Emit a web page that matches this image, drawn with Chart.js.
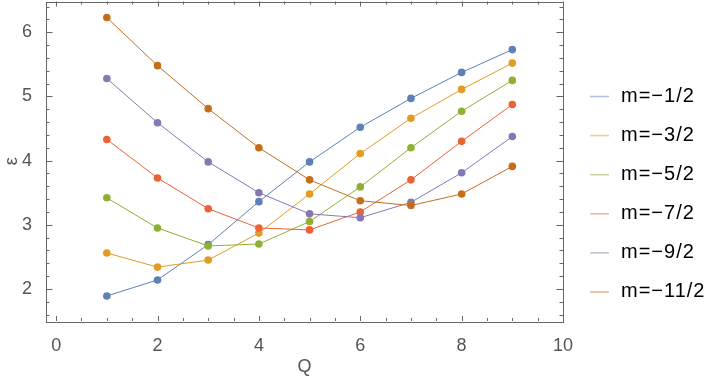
<!DOCTYPE html>
<html><head><meta charset="utf-8">
<script src="https://cdn.jsdelivr.net/npm/chart.js@4"></script>
<style>html,body{margin:0;padding:0;background:#fff}#wrap{width:713px;height:382px;position:relative}</style>
</head><body><div id="wrap"><canvas id="c"></canvas></div>
<script>
const qValues = [1, 2, 3, 4, 5, 6, 7, 8, 9];
const seriesLabels = ['m=\u22121/2', 'm=\u22123/2', 'm=\u22125/2', 'm=\u22127/2', 'm=\u22129/2', 'm=\u221211/2'];
const mHalf1 = [1.89, 2.14, 2.69, 3.36, 3.98, 4.52, 4.97, 5.375, 5.73];
const mHalf3 = [2.56, 2.34, 2.45, 2.87, 3.48, 4.11, 4.66, 5.11, 5.52];
const mHalf5 = [3.42, 2.95, 2.67, 2.70, 3.05, 3.59, 4.20, 4.77, 5.25];
const mHalf7 = [4.33, 3.73, 3.25, 2.95, 2.92, 3.20, 3.70, 4.30, 4.875];
const mHalf9 = [5.28, 4.59, 3.98, 3.50, 3.17, 3.11, 3.35, 3.81, 4.375];
const mHalf11 = [6.23, 5.48, 4.81, 4.20, 3.70, 3.375, 3.30, 3.48, 3.91];
const xTicks = [0, 2, 4, 6, 8, 10];
const yTicks = [2, 3, 4, 5, 6];

const seriesValues = [mHalf1, mHalf3, mHalf5, mHalf7, mHalf9, mHalf11];
const colors = ['#5E81B5', '#E09C24', '#8FB032', '#EB6235', '#8778B3', '#C56E1A'];
const FONT = '"Liberation Sans", Arial, sans-serif';
const TXT = '#555555';

function hexA(h, a) {
  const r = parseInt(h.slice(1,3),16), g = parseInt(h.slice(3,5),16), b = parseInt(h.slice(5,7),16);
  return `rgba(${r},${g},${b},${a})`;
}

const datasets = seriesValues.map((vals, i) => ({
  label: seriesLabels[i],
  data: qValues.map((q, j) => ({x: q, y: vals[j]})),
  borderColor: colors[i],
  backgroundColor: colors[i],
  borderWidth: 1,
  pointRadius: 3.8,
  pointBorderWidth: 0,
  pointBackgroundColor: colors[i],
  tension: 0,
  order: -i
}));

const framePlugin = {
  id: 'frame',
  afterDatasetsDraw(chart) {
    const {ctx, chartArea: a, scales: {x, y}} = chart;
    ctx.save();
    ctx.strokeStyle = '#666666';
    ctx.lineWidth = 1;
    ctx.strokeRect(Math.round(a.left)+0.5, Math.round(a.top)+0.5, Math.round(a.right-a.left), Math.round(a.bottom-a.top));
    ctx.beginPath();
    for (let k = 0; k <= 20; k++) {
      const v = k * 0.5;
      const px = Math.round(x.getPixelForValue(v)) + 0.5;
      const len = (k % 4 === 0) ? 5 : 3;
      ctx.moveTo(px, a.bottom); ctx.lineTo(px, a.bottom - len);
      ctx.moveTo(px, a.top); ctx.lineTo(px, a.top + len);
    }
    for (let k = 0; k <= 25; k++) {
      const v = 1.6 + k * 0.2;
      if (v > 6.48) break;
      const py = Math.round(y.getPixelForValue(v)) + 0.5;
      const major = Math.abs(v - Math.round(v)) < 1e-6;
      const len = major ? 6.5 : 3.5;
      ctx.moveTo(a.left, py); ctx.lineTo(a.left + len, py);
      ctx.moveTo(a.right, py); ctx.lineTo(a.right - len, py);
    }
    ctx.stroke();
    ctx.restore();
  },
  afterDraw(chart) {
    const {ctx} = chart;
    ctx.save();
    ctx.font = '20px ' + FONT;
    ctx.textBaseline = 'middle';
    ctx.textAlign = 'left';
    try { ctx.letterSpacing = '1px'; } catch(e) {}
    chart.data.datasets.forEach((ds, i) => {
      const yy = 96 + 39.1 * i;
      ctx.strokeStyle = hexA(colors[i], 0.5);
      ctx.lineWidth = 1.5;
      ctx.beginPath();
      ctx.moveTo(590, yy + 0.5); ctx.lineTo(609, yy + 0.5);
      ctx.stroke();
      ctx.fillStyle = '#000000';
      ctx.fillText(ds.label, 621, yy);
    });
    ctx.restore();
  }
};

new Chart(document.getElementById('c'), {
  type: 'line',
  data: {datasets},
  options: {
    responsive: true,
    maintainAspectRatio: false,
    animation: false,
    layout: {autoPadding: false, padding: {left: 0, right: 150, top: 1.5, bottom: 0}},
    plugins: {legend: {display: false}, tooltip: {enabled: false}},
    scales: {
      x: {
        type: 'linear', min: -0.2, max: 10,
        afterBuildTicks: s => { s.ticks = xTicks.map(v => ({value: v})); },
        afterFit: s => { s.height = 61; s.paddingLeft = 0; s.paddingRight = 0; },
        grid: {display: false},
        border: {display: false},
        ticks: {color: TXT, font: {family: FONT, size: 18}, padding: 6, maxRotation: 0},
        title: {display: true, text: 'Q', color: TXT, font: {family: FONT, size: 18}, padding: {top: 0, bottom: 4}}
      },
      y: {
        type: 'linear', min: 1.5, max: 6.48,
        afterBuildTicks: s => { s.ticks = yTicks.map(v => ({value: v})); },
        afterFit: s => { s.width = 46; s.paddingTop = 0; s.paddingBottom = 0; },
        grid: {display: false},
        border: {display: false},
        ticks: {color: TXT, font: {family: FONT, size: 18}, padding: 6},
        title: {display: true, text: '\u03b5', color: TXT, font: {family: FONT, size: 18}, padding: {top: 1, bottom: 0}}
      }
    }
  },
  plugins: [framePlugin]
});
</script>
</body></html>
